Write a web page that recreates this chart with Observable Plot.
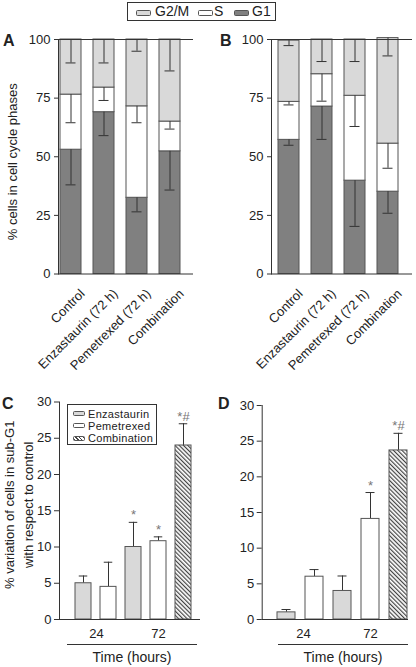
<!DOCTYPE html>
<html><head><meta charset="utf-8">
<script src="https://cdn.jsdelivr.net/npm/d3@7"></script>
<script src="https://cdn.jsdelivr.net/npm/@observablehq/plot@0.6"></script>
<style>
body{margin:0;background:#fff;}
#fig{position:relative;width:416px;height:667px;font-family:"Liberation Sans",Arial,Helvetica,sans-serif;color:#222;overflow:hidden;background:#fff;}
#fig svg{position:absolute;}
.lbl{position:absolute;font-weight:bold;font-size:16px;line-height:16px;}
.box{position:absolute;border:1px solid #333;background:#fff;box-sizing:border-box;}
.sw{position:absolute;box-sizing:border-box;border:1px solid #555;border-radius:1.5px;}
.tx{position:absolute;white-space:nowrap;}
.hline{position:absolute;border-top:1px solid #333;height:0;}
.ttl{position:absolute;text-align:center;font-size:14px;line-height:16px;}
</style></head><body><div id="fig"></div>
<script>
// ---- data: panels A and B (cell-cycle phases, %) ----
const categories = ["Control", "Enzastaurin (72 h)", "Pemetrexed (72 h)", "Combination"];
const phases = ["G2/M", "S", "G1"];
const phaseColors = ["#d9d9d9", "#ffffff", "#808080"];
const yTicksPhase = [0, 25, 50, 75, 100];
const A_G1 = [53, 69, 32.5, 52.3];
const A_S = [23.5, 10.5, 39, 12.7];
const A_G2M = [23.5, 20.5, 28.5, 35];
const A_G1_err = [15, 10, 6, 16.5];
const A_S_err = [12, 5.5, 7, 3.2];
const A_G2M_err = [10, 10, 5, 13.4];
const B_G1 = [57.2, 71.4, 39.8, 35.1];
const B_S = [16.2, 13.8, 36.2, 20.5];
const B_G2M = [26.1, 14.8, 24, 45];
const B_G1_err = [2.3, 14, 19.5, 9.2];
const B_S_err = [1.3, 11.5, 13.1, 10.5];
const B_G2M_err = [2.1, 9.4, 9.4, 7.6];
// ---- data: panels C and D (sub-G1 variation, %) ----
const times = ["24", "24", "72", "72", "72"];
const treatments = ["Enzastaurin", "Pemetrexed", "Enzastaurin", "Pemetrexed", "Combination"];
const treatmentNames = ["Enzastaurin", "Pemetrexed", "Combination"];
const timeTicks = ["24", "72"];
const yTicksSub = [0, 5, 10, 15, 20, 25, 30];
const C_values = [5.0, 4.5, 10.0, 10.8, 24.0];
const C_err = [1.0, 3.4, 3.4, 0.6, 3.0];
const C_sig = ["", "", "*", "*", "*#"];
const D_values = [1.0, 6.0, 4.0, 14.1, 23.7];
const D_err = [0.4, 1.0, 2.1, 3.7, 2.4];
const D_sig = ["", "", "", "*", "*#"];

const FONT = "'Liberation Sans', Arial, Helvetica, sans-serif";
const fig = document.getElementById("fig");
const keys = times.map((t, i) => t + "|" + treatments[i]);

function stackRows(G1, S, G2M, eG1, eS, eG2M) {
  return categories.flatMap((c, i) => {
    const a = G1[i], b = a + S[i], t = b + G2M[i];
    return [
      {cat: c, phase: "G1", y1: 0, y2: a, lo: a - eG1[i]},
      {cat: c, phase: "S", y1: a, y2: b, lo: b - eS[i]},
      {cat: c, phase: "G2/M", y1: b, y2: t, lo: t - eG2M[i]}
    ];
  });
}

function phasePlot(rows, o) {
  const svg = Plot.plot({
    width: o.width, height: 380,
    marginLeft: o.ml, marginRight: o.mr, marginTop: 39, marginBottom: 106.5,
    style: {fontFamily: FONT, fontSize: "13px", color: "#222", background: "transparent"},
    x: {type: "band", domain: categories, paddingInner: 0.35, paddingOuter: o.po, align: o.align, axis: null},
    y: {domain: [0, 100], axis: null},
    color: {domain: phases, range: phaseColors},
    marks: [
      Plot.barY(rows, {x: "cat", y1: "y1", y2: "y2", fill: "phase", stroke: "#555", strokeWidth: 1}),
      Plot.ruleX(rows, {x: "cat", y1: "y2", y2: "lo", stroke: "#333"}),
      Plot.tickY(rows, {x: "cat", y: "lo", stroke: "#333", insetLeft: 5.5, insetRight: 5.5}),
      Plot.ruleY([0, 100], {stroke: "#333"}),
      Plot.frame({anchor: "left", stroke: "#333"}),
      Plot.axisY({ticks: yTicksPhase, tickSize: 4, tickPadding: 4, fontSize: 13, label: null, stroke: "#333"}),
      Plot.text(categories, {x: d => d, y: () => 0, text: d => d, rotate: -45, textAnchor: "end", lineAnchor: "top", dx: 8, dy: 14, fontSize: 13}),
      o.ylabel ? Plot.text([o.ylabel], {frameAnchor: "left", text: d => d, textAnchor: "middle", lineAnchor: "middle", rotate: -90, dx: -45.5, dy: 5, fontSize: 13}) : null
    ]
  });
  svg.style.left = o.left + "px";
  svg.style.top = "0px";
  fig.appendChild(svg);
}

function addHatch(svg, id) {
  const ns = "http://www.w3.org/2000/svg";
  const defs = document.createElementNS(ns, "defs");
  defs.innerHTML = `<pattern id="${id}" patternUnits="userSpaceOnUse" width="3" height="3" patternTransform="rotate(-45)"><rect width="3" height="3" fill="#fff"/><line x1="0.6" y1="0" x2="0.6" y2="3" stroke="#444" stroke-width="1.2"/></pattern>`;
  svg.insertBefore(defs, svg.firstChild);
}

function subPlot(values, errs, sig, o) {
  const rows = values.map((v, i) => ({key: keys[i], treat: treatments[i], v, top: v + errs[i], sig: sig[i]}));
  const svg = Plot.plot({
    width: o.width, height: 277,
    marginLeft: o.ml, marginRight: o.mr, marginTop: o.mt, marginBottom: 48,
    style: {fontFamily: FONT, fontSize: "13px", color: "#222", background: "transparent"},
    x: {type: "band", domain: keys, paddingInner: o.pi, paddingOuter: o.po, align: o.align, axis: null},
    y: {domain: [0, 30], axis: null},
    color: {domain: treatmentNames, range: ["#d9d9d9", "#ffffff", `url(#${o.hatch})`]},
    marks: [
      Plot.ruleX(rows, {x: "key", y1: "v", y2: "top", stroke: "#333"}),
      Plot.tickY(rows, {x: "key", y: "top", stroke: "#333", insetLeft: o.cap, insetRight: o.cap}),
      Plot.barY(rows, {x: "key", y: "v", fill: "treat", stroke: "#555", strokeWidth: 1}),
      Plot.ruleY([0], {stroke: "#333"}),
      Plot.frame({anchor: "left", stroke: "#333"}),
      Plot.axisY({ticks: yTicksSub, tickSize: 5, tickPadding: 3, fontSize: 13, label: null, stroke: "#333"}),
      Plot.text(rows.filter(d => d.sig), {x: "key", y: "top", text: "sig", lineAnchor: "bottom", dy: -3, fill: "#777", fontSize: 13}),
      Plot.text([timeTicks[0]], {x: () => keys[0], y: () => 0, text: d => d, dx: o.dx24, dy: 9, lineAnchor: "top", fontSize: 13}),
      Plot.text([timeTicks[1]], {x: () => keys[3], y: () => 0, text: d => d, dy: 9, lineAnchor: "top", fontSize: 13}),
      o.ylabel ? Plot.text([o.ylabel], {frameAnchor: "left", text: d => d, textAnchor: "middle", lineAnchor: "middle", rotate: -90, dx: -42.5, dy: -6, lineHeight: 1.46, fontSize: 13}) : null
    ]
  });
  addHatch(svg, o.hatch);
  svg.style.left = o.left + "px";
  svg.style.top = "390px";
  fig.appendChild(svg);
}

phasePlot(stackRows(A_G1, A_S, A_G2M, A_G1_err, A_S_err, A_G2M_err),
  {left: 0, width: 205, ml: 58, mr: 12, po: 0.196, align: 0.15, ylabel: "% cells in cell cycle phases"});
phasePlot(stackRows(B_G1, B_S, B_G2M, B_G1_err, B_S_err, B_G2M_err),
  {left: 205, width: 211, ml: 66, mr: 4, po: 0.25, align: 0.35});
subPlot(C_values, C_err, C_sig,
  {left: 0, width: 205, ml: 59, mr: 5, mt: 11.5, pi: 0.36, po: 0.396, align: 0.62, cap: 3.75, dx24: 13, hatch: "hatchC",
   ylabel: "% variation of cells in sub-G1\nwith respect to control"});
subPlot(D_values, D_err, D_sig,
  {left: 205, width: 211, ml: 56.7, mr: 8, mt: 15, pi: 0.363, po: 0.27, align: 0.9, cap: 4.5, dx24: 17, hatch: "hatchD"});

// ---- HTML overlays: legends, panel letters, time axis titles ----
function el(cls, css, html) {
  const d = document.createElement("div");
  d.className = cls;
  Object.assign(d.style, css);
  if (html != null) d.textContent = html;
  fig.appendChild(d);
  return d;
}
// top legend
el("box", {left: "127px", top: "2px", width: "149px", height: "19px"});
const legendItems = [[phases[0], phaseColors[0], 136, 155], [phases[1], phaseColors[1], 198, 214], [phases[2], phaseColors[2], 234, 252]];
legendItems.forEach(([t, c, sx, tx]) => {
  el("sw", {left: sx + "px", top: "10px", width: "15px", height: "6px", background: c});
  el("tx", {left: tx + "px", top: "3px", fontSize: "14px", lineHeight: "17px"}, t);
});
// C legend
el("box", {left: "67px", top: "404px", width: "90px", height: "41px"});
const cSw = ["#d9d9d9", "#ffffff", "repeating-linear-gradient(45deg,#444 0 1px,#fff 1px 2.6px)"];
treatmentNames.forEach((t, i) => {
  const cy = 413.5 + i * 12.3;
  el("sw", {left: "73px", top: (cy - 2.5) + "px", width: "12px", height: "5px", background: cSw[i]});
  el("tx", {left: "88px", top: (cy - 6) + "px", fontSize: "11px", lineHeight: "12px", letterSpacing: "0.3px"}, t);
});
// panel letters
el("lbl", {left: "3px", top: "33px"}, "A");
el("lbl", {left: "220px", top: "33px"}, "B");
el("lbl", {left: "2px", top: "396px"}, "C");
el("lbl", {left: "218px", top: "396px"}, "D");
// time axis titles
el("hline", {left: "67px", top: "644px", width: "130px"});
el("ttl", {left: "67px", top: "649px", width: "130px"}, "Time (hours)");
el("hline", {left: "278px", top: "644px", width: "130px"});
el("ttl", {left: "278px", top: "649px", width: "130px"}, "Time (hours)");
</script></body></html>
